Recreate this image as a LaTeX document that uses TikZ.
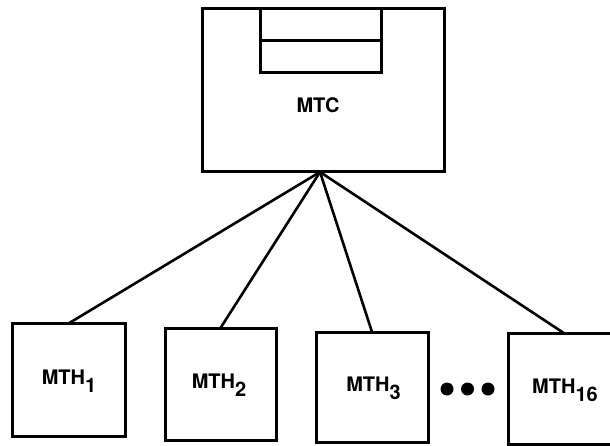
\documentclass[tikz,border=0pt]{standalone}
\usepackage{fontspec}
\setmainfont{TeX Gyre Heros}
\usepackage{tikz}

\newcommand{\lowsub}[1]{\raisebox{-8pt}{#1}}

\begin{document}
\begin{tikzpicture}[x=1pt,y=1pt,yscale=-1,xscale=1,
    box/.style={draw, line width=3pt, inner sep=0pt, outer sep=0pt},
    lbl/.style={inner sep=0.75pt, font=\fontsize{20}{23}\selectfont\bfseries},
    link/.style={line width=2.6pt}]
        %set diagram left start at 0, and has height of 446
        \clip (0,0) rectangle (610,446);

        %Shape: Rectangle [MTC]
        \node [box, minimum width=242, minimum height=163] (mtc) at (323,90.5) {};
        %Shape: Rectangle [buffer]
        \node [box, minimum width=121, minimum height=64] (buf) at (320.5,41) {};
        \draw [line width=3pt] (buf.west) -- (buf.east);
        % Text Node
        \node [lbl] (mtclbl) at (318,105) {MTC};

        %Shape: Rectangle [MTH boxes]
        \node [box, minimum width=113, minimum height=113] (mth1) at (68.5,380) {};
        \node [box, minimum width=111, minimum height=112] (mth2) at (220.5,384) {};
        \node [box, minimum width=112, minimum height=110] (mth3) at (372,387) {};
        \node [box, minimum width=113, minimum height=111] (mth16) at (564.5,389) {};

        % Text Node
        \node [lbl] (lbl1) at (69,381) {MTH\lowsub{1}};
        % Text Node
        \node [lbl] (lbl2) at (219,385) {MTH\lowsub{2}};
        % Text Node
        \node [lbl] (lbl3) at (373.5,388) {MTH\lowsub{3}};
        % Text Node
        \node [lbl] (lbl16) at (565,390) {MTH\lowsub{16}};

        %Straight Lines
        \coordinate (hub) at (320,172);
        \draw [link] (hub) -- (mth1.north);
        \draw [link] (hub) -- (mth2.north);
        \draw [link] (hub) -- (mth3.north);
        \draw [link] (hub) -- (mth16.north);

        %Dots
        \foreach \dx in {447,467.5,488}
            \fill (\dx,389) circle (6.5);

\end{tikzpicture}
\end{document}
